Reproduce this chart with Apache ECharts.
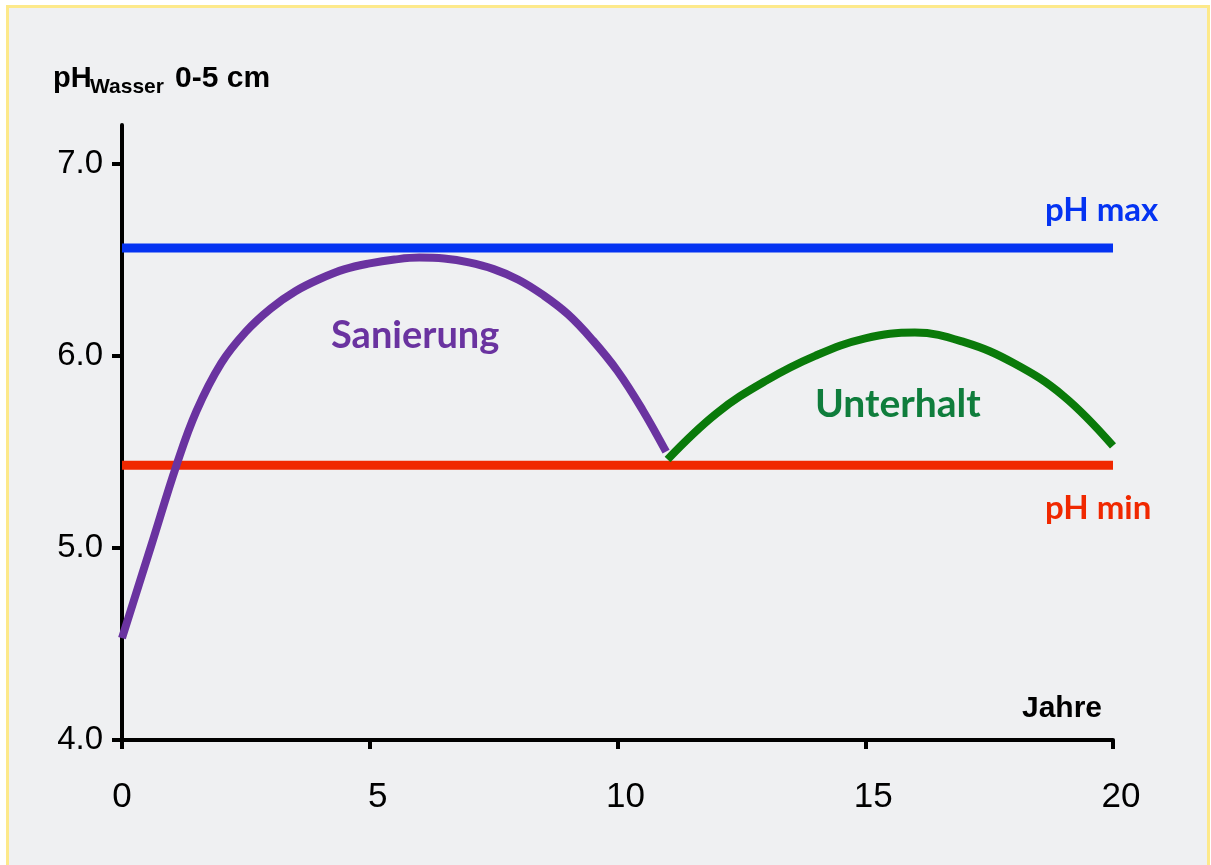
<!DOCTYPE html>
<html>
<head>
<meta charset="utf-8">
<script src="https://cdn.jsdelivr.net/npm/echarts@6/dist/echarts.min.js"></script>
<style>
  html, body { margin: 0; padding: 0; background: #fff; }
  #frame { position: absolute; left: 6px; top: 5px; width: 1198px; height: 870px;
           background: #eff0f2; border: 3px solid #fde98a; }
  #main { position: absolute; left: 0; top: 0; width: 1211px; height: 865px; }
</style>
</head>
<body>
<div id="frame"></div>
<div id="main"></div>
<script>
// pH-Verlauf (Jahre -> pH)
const sanierungX = [0, 0.6, 1.1, 1.5, 2.0, 2.5, 3.0, 3.5, 4.0, 4.5, 5.0, 5.5, 6.0, 6.5, 7.0, 7.5, 8.0, 8.5, 9.0, 9.5, 10.0, 10.5, 10.98];
const sanierungY = [4.53, 5.02, 5.43, 5.71, 5.96, 6.125, 6.245, 6.335, 6.40, 6.45, 6.48, 6.50, 6.51, 6.505, 6.485, 6.45, 6.395, 6.315, 6.215, 6.08, 5.92, 5.72, 5.50];
const unterhaltX = [11.01, 12.0, 13.0, 14.0, 15.0, 16.0, 17.0, 18.0, 19.0, 20.0];
const unterhaltY = [5.46, 5.70, 5.87, 6.00, 6.09, 6.12, 6.07, 5.96, 5.79, 5.53];
const phMax = 6.56;
const phMin = 5.43;
const jahreRange = [0, 20];
const yTicks = [4, 5, 6, 7];
const xTicks = [0, 5, 10, 15, 20];

const zip = (xs, ys) => xs.map((x, i) => [x, ys[i]]);

const chart = echarts.init(document.getElementById('main'), null, { renderer: 'canvas' });

const txt = (text, x, y, size, color, family, align) => ({
  type: 'text', x: x, y: y, z: 10,
  style: { text: text, fill: color, font: 'bold ' + size + 'px ' + family,
           textAlign: align || 'left', textVerticalAlign: 'middle' }
});

chart.setOption({
  backgroundColor: 'transparent',
  animation: false,
  grid: { left: 122, right: 98, top: 125, bottom: 125 },
  xAxis: {
    type: 'value', min: 0, max: 20, interval: 5,
    axisLine: { lineStyle: { color: '#000', width: 4 } },
    axisTick: { length: 9, lineStyle: { color: '#000', width: 4 }, customValues: xTicks },
    axisLabel: {
      margin: 40, color: '#000', fontSize: 35,
      fontFamily: "'Liberation Sans', Arial", customValues: xTicks,
      formatter: v => v === 0 ? '{a|0}' : '{b|' + v + '}',
      rich: {
        a: { fontSize: 35, fontFamily: "'Liberation Sans', Arial", color: '#000' },
        b: { fontSize: 35, fontFamily: "'Liberation Sans', Arial", color: '#000', padding: [0, 0, 0, 16] }
      }
    },
    splitLine: { show: false }
  },
  yAxis: {
    type: 'value', min: 4, max: 7.2, interval: 1,
    axisLine: { show: true, lineStyle: { color: '#000', width: 4 } },
    axisTick: { show: true, length: 10, lineStyle: { color: '#000', width: 4 }, customValues: yTicks },
    axisLabel: { margin: 19, color: '#000', fontSize: 33,
                 fontFamily: "'Liberation Sans', Arial",
                 customValues: yTicks, formatter: v => v.toFixed(1) },
    splitLine: { show: false }
  },
  series: [
    { type: 'line', name: 'pH max', data: zip(jahreRange, [phMax, phMax]), symbol: 'none',
      lineStyle: { color: '#0433f2', width: 9 }, z: 3 },
    { type: 'line', name: 'pH min', data: zip(jahreRange, [phMin, phMin]), symbol: 'none',
      lineStyle: { color: '#f02800', width: 9 }, z: 3 },
    { type: 'line', name: 'Sanierung', data: zip(sanierungX, sanierungY), symbol: 'none', smooth: 0.4,
      lineStyle: { color: '#6a33a0', width: 8 }, z: 4 },
    { type: 'line', name: 'Unterhalt', data: zip(unterhaltX, unterhaltY), symbol: 'none', smooth: 0.4,
      lineStyle: { color: '#0a7a0a', width: 8 }, z: 4 }
  ],
  graphic: [
    txt('pH', 53, 79, 29, '#000', "'Liberation Sans', Arial"),
    txt('Wasser', 90, 87, 21, '#000', "'Liberation Sans', Arial"),
    txt('0-5 cm', 175, 79, 30, '#000', "'Liberation Sans', Arial"),
    txt('Jahre', 1102, 709, 30, '#000', "'Liberation Sans', Arial", 'right'),
    txt('pH max', 1045, 210, 33, '#0433f2', 'Lato, sans-serif'),
    txt('pH min', 1045, 508, 33, '#f02800', 'Lato, sans-serif'),
    txt('Sanierung', 331, 336, 38, '#6a33a0', 'Lato, sans-serif'),
    txt('Unterhalt', 815, 404, 39, '#0f7d3c', 'Lato, sans-serif')
  ]
});
</script>
</body>
</html>
